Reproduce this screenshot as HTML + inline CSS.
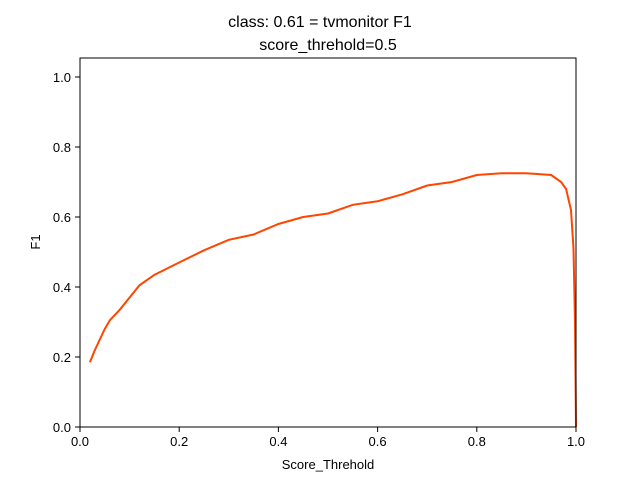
<!DOCTYPE html>
<html><head><meta charset="utf-8"><style>
body{margin:0;background:#fff;}
svg{display:block;font-family:"Liberation Sans","DejaVu Sans",sans-serif;}
</style></head><body>
<svg id="chart" width="640" height="480" viewBox="0 0 640 480">
<rect width="640" height="480" fill="#fff"/>
<text x="320" y="27" font-size="16" text-anchor="middle">class: 0.61 = tvmonitor F1</text>
<text x="328" y="50" font-size="16" text-anchor="middle">score_threhold=0.5</text>
<g id="ticks"></g>
<path id="series" fill="none" stroke="#ff4500" stroke-width="2"/>
<rect x="80" y="58" width="496" height="369" fill="none" stroke="#000" stroke-width="1"/>
<text x="328" y="469" font-size="13" text-anchor="middle">Score_Threhold</text>
<text x="40" y="242" font-size="13" text-anchor="middle" transform="rotate(-90 40 242)">F1</text>
</svg>
<script>
const xTicks=[0,0.2,0.4,0.6,0.8,1.0];
const xTickLabels=["0.0","0.2","0.4","0.6","0.8","1.0"];
const yTicks=[0,0.2,0.4,0.6,0.8,1.0];
const yTickLabels=["0.0","0.2","0.4","0.6","0.8","1.0"];
const scores=[0.02,0.03,0.04,0.05,0.06,0.08,0.1,0.12,0.15,0.2,0.25,0.3,0.35,0.4,0.45,0.5,0.55,0.6,0.65,0.7,0.75,0.8,0.85,0.9,0.95,0.97,0.98,0.99,0.995,0.998,1.0];
const f1=[0.185,0.22,0.25,0.28,0.305,0.335,0.37,0.405,0.435,0.47,0.505,0.535,0.55,0.58,0.6,0.61,0.635,0.645,0.665,0.69,0.7,0.72,0.725,0.725,0.72,0.7,0.68,0.62,0.51,0.3,0.0];
const sx=v=>80+v*496;
const sy=v=>427-v*350;
const NS="http://www.w3.org/2000/svg";
const g=document.getElementById('ticks');
xTicks.forEach((t,i)=>{
  const l=document.createElementNS(NS,'line');
  l.setAttribute('x1',sx(t));l.setAttribute('x2',sx(t));l.setAttribute('y1',427);l.setAttribute('y2',432);l.setAttribute('stroke','#000');
  
  
  g.appendChild(l);
  const tx=document.createElementNS(NS,'text');
  tx.setAttribute('x',sx(t));tx.setAttribute('y',446);tx.setAttribute('font-size','13');tx.setAttribute('text-anchor','middle');
  tx.textContent=xTickLabels[i];
  
  
  g.appendChild(tx);
});
yTicks.forEach((t,i)=>{
  const l=document.createElementNS(NS,'line');
  l.setAttribute('x1',75);l.setAttribute('x2',80);l.setAttribute('y1',sy(t));l.setAttribute('y2',sy(t));l.setAttribute('stroke','#000');
  
  
  g.appendChild(l);
  const tx=document.createElementNS(NS,'text');
  tx.setAttribute('x',71);tx.setAttribute('y',sy(t)+5);tx.setAttribute('font-size','13');tx.setAttribute('text-anchor','end');
  tx.textContent=yTickLabels[i];
  
  
  g.appendChild(tx);
});
document.getElementById('series').setAttribute('d',scores.map((s,i)=>(i?'L':'M')+sx(s).toFixed(1)+','+sy(f1[i]).toFixed(1)).join(''));
</script>
</body></html>
